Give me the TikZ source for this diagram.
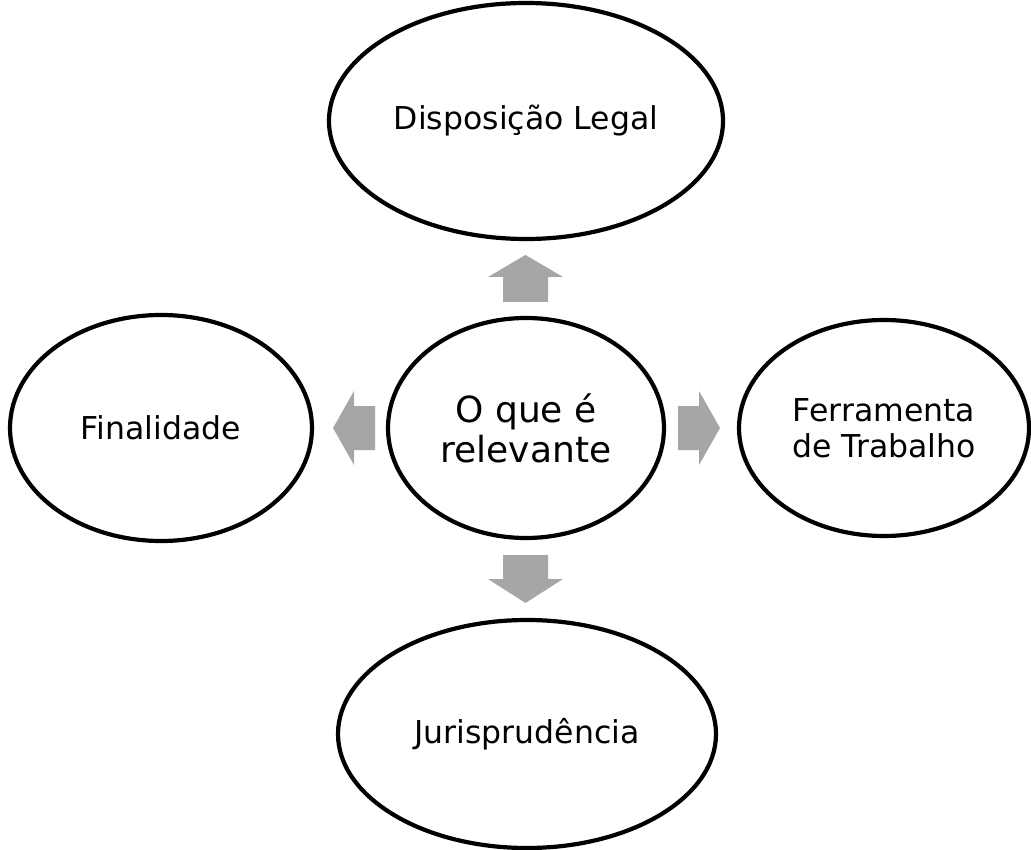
\documentclass[tikz,border=0pt]{standalone}
\usepackage{fontspec}
\setmainfont{DejaVu Sans}
\usetikzlibrary{shapes.geometric}
\definecolor{arrowgray}{RGB}{166,166,166}
\tikzset{
  bubble/.style={ellipse, draw=black, line width=4.2pt, fill=white, inner sep=0pt, align=center,
                 font=\fontsize{31.5}{36}\selectfont},
  blockarrow/.style={fill=arrowgray, draw=none}
}
\begin{document}
\begin{tikzpicture}[x=1pt,y=-1pt]
\useasboundingbox (0,0) rectangle (1031,850);
\fill[white] (0,0) rectangle (1031,850);
% nodes
\node[bubble, minimum width=394pt, minimum height=236pt] (top) at (526,121) {Disposição Legal};
\node[bubble, minimum width=276pt, minimum height=220pt, font=\fontsize{36}{40}\selectfont] (mid) at (526,428) {O que é\\relevante};
\node[bubble, minimum width=302pt, minimum height=226pt] (left) at (161,428) {Finalidade};
\node[bubble, minimum width=290pt, minimum height=216pt] (right) at (884,428) {Ferramenta\\de Trabalho};
\node[bubble, minimum width=378pt, minimum height=228pt] (bot) at (527,734) {Jurisprudência};
% block arrows
\fill[blockarrow] (503,302) -- (503,277) -- (488,277) -- (525.5,255) -- (563,277) -- (548,277) -- (548,302) -- cycle;
\fill[blockarrow] (503,555) -- (548,555) -- (548,579) -- (563,579) -- (525.5,603) -- (488,579) -- (503,579) -- cycle;
\fill[blockarrow] (375,406) -- (354,406) -- (354,391) -- (333,428) -- (354,465) -- (354,450) -- (375,450) -- cycle;
\fill[blockarrow] (678,406) -- (699,406) -- (699,391) -- (720,428) -- (699,465) -- (699,450) -- (678,450) -- cycle;
\end{tikzpicture}
\end{document}
